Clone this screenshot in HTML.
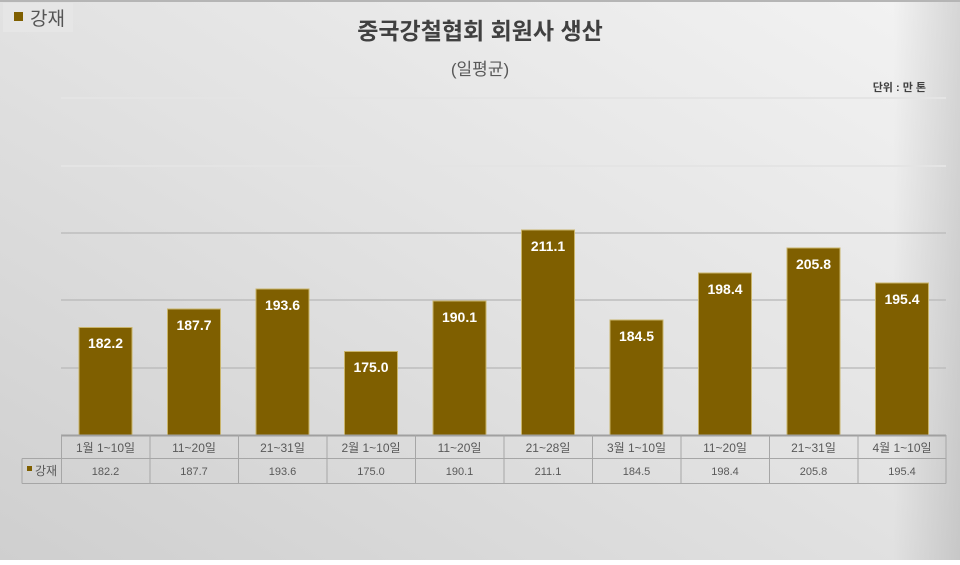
<!DOCTYPE html>
<html><head><meta charset="utf-8"><style>
html,body{margin:0;padding:0;}
body{width:960px;height:560px;overflow:hidden;}
svg text{font-family:"Liberation Sans","Noto Sans CJK KR",sans-serif;}
</style></head><body>
<svg width="960" height="560" viewBox="0 0 960 560" xmlns="http://www.w3.org/2000/svg">
<defs>
<linearGradient id="bg" x1="0" y1="1" x2="1" y2="0">
<stop offset="0" stop-color="#cfcfcf"/>
<stop offset="0.5" stop-color="#e2e2e2"/>
<stop offset="1" stop-color="#f3f3f3"/>
</linearGradient>
<linearGradient id="edge" x1="0" y1="0" x2="1" y2="0">
<stop offset="0.93" stop-color="#000" stop-opacity="0"/>
<stop offset="1" stop-color="#000" stop-opacity="0.12"/>
</linearGradient>
</defs>
<rect width="960" height="560" fill="url(#bg)"/>
<rect width="960" height="560" fill="url(#edge)"/>
<rect x="0" y="0" width="960" height="2" fill="#b5b5b5"/>
<rect x="3" y="3" width="70" height="29" fill="#e6e6e6"/>
<rect x="14" y="12" width="9" height="9" fill="#7f5f00"/>
<text x="30" y="25" font-size="19" fill="#555">강재</text>
<text x="480" y="39" font-size="23" fill="#404040" text-anchor="middle" font-weight="bold">중국강철협회 회원사 생산</text>
<text x="480" y="75" font-size="17" fill="#595959" text-anchor="middle">(일평균)</text>
<text x="926" y="91" font-size="11" fill="#404040" text-anchor="end" font-weight="bold">단위 : 만 톤</text>
<g stroke="#e4e4e4" stroke-width="2">
<line x1="61" y1="98" x2="946" y2="98"/>
<line x1="61" y1="166" x2="946" y2="166"/>
</g>
<g stroke="#bdbdbd" stroke-width="1.5">
<line x1="61" y1="233" x2="946" y2="233"/>
<line x1="61" y1="300" x2="946" y2="300"/>
<line x1="61" y1="368" x2="946" y2="368"/>
</g>
<g fill="#7f5f00" stroke="#c9b46a" stroke-width="1">
<rect x="79" y="327.5" width="53" height="108"/>
<rect x="167.5" y="309" width="53" height="126"/>
<rect x="256" y="289" width="53" height="146"/>
<rect x="344.5" y="351.5" width="53" height="83.5"/>
<rect x="433" y="301" width="53" height="134"/>
<rect x="521.5" y="230" width="53" height="205"/>
<rect x="610" y="320" width="53" height="115"/>
<rect x="698.5" y="273" width="53" height="162"/>
<rect x="787" y="248" width="53" height="187"/>
<rect x="875.5" y="283" width="53" height="152"/>
</g>
<g font-size="14" font-weight="bold" fill="#fff" text-anchor="middle">
<text x="105.5" y="348">182.2</text>
<text x="194" y="330">187.7</text>
<text x="282.5" y="310">193.6</text>
<text x="371" y="372">175.0</text>
<text x="459.5" y="322">190.1</text>
<text x="548" y="251">211.1</text>
<text x="636.5" y="341">184.5</text>
<text x="725" y="294">198.4</text>
<text x="813.5" y="269">205.8</text>
<text x="902" y="304">195.4</text>
</g>
<line x1="61" y1="435.5" x2="946" y2="435.5" stroke="#a0a0a0" stroke-width="2"/>
<g stroke="#a6a6a6" stroke-width="1" fill="none">
<line x1="22" y1="458.5" x2="946" y2="458.5"/>
<line x1="22" y1="483.5" x2="946" y2="483.5"/>
<line x1="22" y1="458.5" x2="22" y2="483.5"/>
<line x1="61.5" y1="435" x2="61.5" y2="483.5"/>
<line x1="150" y1="435" x2="150" y2="483.5"/>
<line x1="238.5" y1="435" x2="238.5" y2="483.5"/>
<line x1="327" y1="435" x2="327" y2="483.5"/>
<line x1="415.5" y1="435" x2="415.5" y2="483.5"/>
<line x1="504" y1="435" x2="504" y2="483.5"/>
<line x1="592.5" y1="435" x2="592.5" y2="483.5"/>
<line x1="681" y1="435" x2="681" y2="483.5"/>
<line x1="769.5" y1="435" x2="769.5" y2="483.5"/>
<line x1="858" y1="435" x2="858" y2="483.5"/>
<line x1="946" y1="435" x2="946" y2="483.5"/>
</g>
<g font-size="12" fill="#595959" text-anchor="middle">
<text x="105.5" y="452">1월 1~10일</text>
<text x="194" y="452">11~20일</text>
<text x="282.5" y="452">21~31일</text>
<text x="371" y="452">2월 1~10일</text>
<text x="459.5" y="452">11~20일</text>
<text x="548" y="452">21~28일</text>
<text x="636.5" y="452">3월 1~10일</text>
<text x="725" y="452">11~20일</text>
<text x="813.5" y="452">21~31일</text>
<text x="902" y="452">4월 1~10일</text>
</g>
<g font-size="11" fill="#595959" text-anchor="middle">
<text x="105.5" y="475">182.2</text>
<text x="194" y="475">187.7</text>
<text x="282.5" y="475">193.6</text>
<text x="371" y="475">175.0</text>
<text x="459.5" y="475">190.1</text>
<text x="548" y="475">211.1</text>
<text x="636.5" y="475">184.5</text>
<text x="725" y="475">198.4</text>
<text x="813.5" y="475">205.8</text>
<text x="902" y="475">195.4</text>
</g>
<rect x="27" y="466" width="5" height="5" fill="#7f5f00"/>
<text x="35" y="475" font-size="12" fill="#595959">강재</text>
</svg>
</body></html>
